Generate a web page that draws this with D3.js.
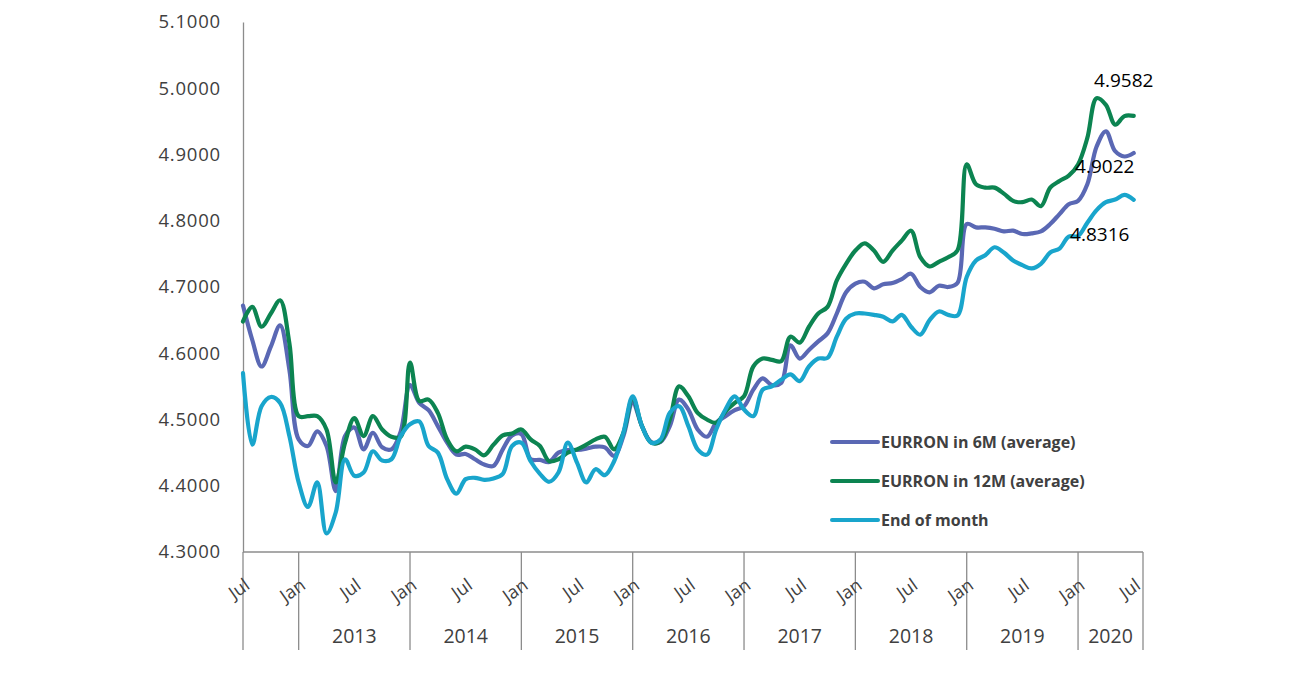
<!DOCTYPE html>
<html>
<head>
<meta charset="utf-8">
<script src="https://cdn.jsdelivr.net/npm/d3@7"></script>
<style>
    body { margin: 0; background: #fff; }
    svg text { font-family: "Open Sans", Arial, sans-serif; }
</style>
</head>
<body>
<svg id="chart" width="1312" height="700"></svg>
<script>
// monthly values, Jul 2012 .. Jul 2020
var eur6m = [4.672, 4.620, 4.580, 4.610, 4.642, 4.575, 4.470, 4.460, 4.482, 4.460,
    4.392, 4.475, 4.488, 4.455, 4.480, 4.458, 4.455, 4.482, 4.552, 4.525,
    4.514, 4.490, 4.465, 4.447, 4.448, 4.440, 4.432, 4.430, 4.455, 4.476,
    4.478, 4.440, 4.439, 4.436, 4.450, 4.454, 4.454, 4.456, 4.459, 4.458,
    4.445, 4.475, 4.525, 4.490, 4.466, 4.466, 4.490, 4.530, 4.515, 4.485,
    4.474, 4.495, 4.505, 4.514, 4.520, 4.545, 4.562, 4.552, 4.555, 4.612,
    4.592, 4.605, 4.618, 4.630, 4.660, 4.692, 4.705, 4.708, 4.698, 4.704,
    4.706, 4.712, 4.720, 4.700, 4.692, 4.702, 4.700, 4.706, 4.795, 4.790,
    4.790, 4.788, 4.784, 4.785, 4.780, 4.781, 4.784, 4.795, 4.810, 4.825,
    4.830, 4.855, 4.912, 4.935, 4.905, 4.897, 4.9022];

var eur12m = [4.648, 4.670, 4.640, 4.660, 4.680, 4.615, 4.505, 4.505, 4.505, 4.485,
    4.405, 4.465, 4.502, 4.475, 4.505, 4.485, 4.474, 4.474, 4.586, 4.528,
    4.530, 4.510, 4.470, 4.452, 4.459, 4.455, 4.446, 4.462, 4.476, 4.479,
    4.485, 4.470, 4.460, 4.437, 4.440, 4.450, 4.455, 4.462, 4.470, 4.474,
    4.455, 4.480, 4.532, 4.490, 4.465, 4.467, 4.500, 4.550, 4.535, 4.510,
    4.500, 4.495, 4.512, 4.525, 4.535, 4.580, 4.592, 4.590, 4.588, 4.625,
    4.616, 4.640, 4.660, 4.670, 4.710, 4.735, 4.755, 4.766, 4.755, 4.738,
    4.755, 4.770, 4.785, 4.745, 4.731, 4.738, 4.745, 4.755, 4.885, 4.855,
    4.850, 4.850, 4.841, 4.830, 4.828, 4.832, 4.822, 4.850, 4.860, 4.868,
    4.885, 4.925, 4.985, 4.975, 4.945, 4.958, 4.9582];

var endOfMonth = [4.570, 4.462, 4.520, 4.534, 4.525, 4.475, 4.405, 4.368, 4.405, 4.328,
    4.360, 4.440, 4.415, 4.420, 4.452, 4.438, 4.440, 4.475, 4.493, 4.497,
    4.460, 4.450, 4.410, 4.388, 4.410, 4.412, 4.409, 4.411, 4.418, 4.460,
    4.465, 4.437, 4.418, 4.406, 4.420, 4.465, 4.435, 4.405, 4.425, 4.416,
    4.437, 4.480, 4.535, 4.490, 4.465, 4.470, 4.510, 4.520, 4.490, 4.455,
    4.447, 4.485, 4.515, 4.535, 4.515, 4.505, 4.545, 4.550, 4.560, 4.568,
    4.558, 4.580, 4.592, 4.593, 4.625, 4.652, 4.660, 4.660, 4.658, 4.655,
    4.648, 4.658, 4.640, 4.628, 4.650, 4.663, 4.658, 4.657, 4.715, 4.740,
    4.748, 4.760, 4.752, 4.740, 4.733, 4.728, 4.735, 4.752, 4.758, 4.776,
    4.777, 4.797, 4.816, 4.828, 4.832, 4.839, 4.8316];

var yTicks = [4.3, 4.4, 4.5, 4.6, 4.7, 4.8, 4.9, 5.0, 5.1];
var monthLabels = ["Jul", "Jan"];
var years = ["", "2013", "2014", "2015", "2016", "2017", "2018", "2019", "2020"];
var seriesNames = ["EURRON in 6M (average)", "EURRON in 12M (average)", "End of month"];
var colors = ["#5a68b4", "#0c8451", "#19a5cc"];

var svg = d3.select("#chart");
var axisColor = "#8c8c8c", textColor = "#404040";

// month index 0 = Jul 2012, axis runs one month past the last point
var x = d3.scaleLinear().domain([0, 97]).range([243, 1143]);
var y = d3.scaleLinear().domain([4.3, 5.1]).range([552, 22]);

// y axis
var yAxis = d3.axisLeft(y).tickValues(yTicks).tickSize(0).tickPadding(22)
    .tickFormat(d3.format(".4f"));
var gy = svg.append("g").attr("transform", "translate(" + x(0) + ",0)").call(yAxis);
gy.select(".domain").attr("stroke", axisColor).attr("stroke-width", 1.3);
gy.selectAll("text").attr("fill", textColor).style("font-size", "18.5px")
    .style("letter-spacing", "0.8px");

// x axis line
svg.append("line").attr("x1", x(0)).attr("x2", x(97)).attr("y1", y(4.3)).attr("y2", y(4.3))
    .attr("stroke", axisColor).attr("stroke-width", 1.3);

// group separators: start, every January, end
var seps = [0];
for (var k = 6; k < 97; k += 12) seps.push(k);
seps.push(97);
svg.selectAll(".sep").data(seps).enter().append("line")
    .attr("x1", function (d) { return x(d); }).attr("x2", function (d) { return x(d); })
    .attr("y1", y(4.3)).attr("y2", 650)
    .attr("stroke", axisColor).attr("stroke-width", 1.3);

// Jul / Jan labels every six months
var mTicks = d3.range(0, 97, 6);
svg.selectAll(".mlab").data(mTicks).enter().append("text")
    .attr("transform", function (d) { return "translate(" + (x(d) + 8) + ",588) rotate(-35)"; })
    .attr("text-anchor", "end")
    .attr("fill", textColor).style("font-size", "18px")
    .text(function (d) { return monthLabels[(d / 6) % 2]; });

// year labels centred in each group
svg.selectAll(".ylab").data(years).enter().append("text")
    .attr("x", function (d, i) { return (x(seps[i]) + x(seps[i + 1])) / 2; })
    .attr("y", 643)
    .attr("text-anchor", "middle")
    .attr("fill", textColor).style("font-size", "19.5px")
    .text(function (d) { return d; });

// lines
var line = d3.line()
    .x(function (d, i) { return x(i); })
    .y(function (d) { return y(d); })
    .curve(d3.curveCatmullRom);

var all = [eur6m, eur12m, endOfMonth];
svg.selectAll(".series").data(all).enter().append("path")
    .attr("d", line)
    .attr("fill", "none")
    .attr("stroke", function (d, i) { return colors[i]; })
    .attr("stroke-width", 4.2)
    .attr("stroke-linejoin", "round")
    .attr("stroke-linecap", "round");

// value labels at the last point
var last = all[0].length - 1;
var labelOffsets = [[-29, 20], [-10, -29], [-34, 41]];
all.forEach(function (s, i) {
    svg.append("text")
        .attr("x", x(last) + labelOffsets[i][0])
        .attr("y", y(s[last]) + labelOffsets[i][1])
        .attr("text-anchor", "middle")
        .attr("fill", "#000").style("font-size", "19px")
        .text(s[last].toFixed(4));
});

// legend
var lg = svg.append("g").attr("transform", "translate(832,442)");
seriesNames.forEach(function (n, i) {
    lg.append("line").attr("x1", 0).attr("x2", 46).attr("y1", i * 39).attr("y2", i * 39)
        .attr("stroke", colors[i]).attr("stroke-width", 4).attr("stroke-linecap", "round");
    lg.append("text").attr("x", 49).attr("y", i * 39 + 5.5)
        .attr("fill", textColor).style("font-size", "16px").style("font-weight", "bold")
        .text(n);
});
</script>
</body>
</html>
